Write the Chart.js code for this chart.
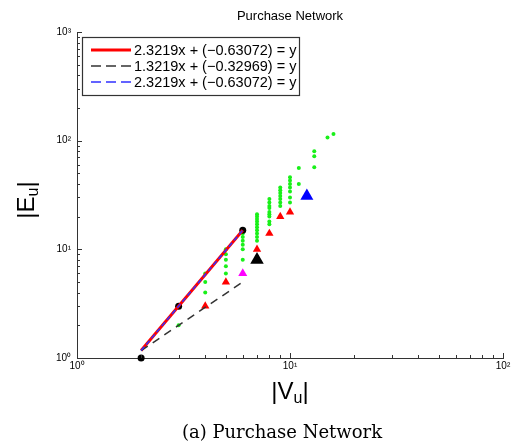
<!DOCTYPE html>
<html><head><meta charset="utf-8">
<script src="https://cdn.jsdelivr.net/npm/chart.js@4/dist/chart.umd.min.js"></script>
<style>html,body{margin:0;padding:0;background:#fff;}canvas{display:block;}</style>
</head><body>
<canvas id="c" width="513" height="446"></canvas>
<script>
// ---- data ----
const chartTitle = "Purchase Network";
const captionText = "(a) Purchase Network";
const xTickValues = [1, 10, 100];
const yTickValues = [1, 10, 100, 1000];
const xTickLabels = ["10\u2070", "10\u00b9", "10\u00b2"];
const yTickLabels = ["10\u2070", "10\u00b9", "10\u00b2", "10\u00b3"];

const greenX = [3, 4,4,4, 5,5,5,5,5, 6,6,6,6,6,6, 7,7,7,7,7,7,7,7,7,7,
                8,8,8,8,8,8,8,8,8, 9,9,9,9,9,9,9, 10,10,10,10,10,10,10, 11,11, 13,13,13, 15, 16];
const greenY = [2, 4,5,6, 6,7,8,9,10, 8,10,11,12,13,14, 12,13,14,15,16,17,18,19,20,21,
                17,18,20,21,22,24,25,27,29, 25,27,29,31,33,35,37, 27,30,34,37,40,43,46, 40,56, 57,72,80, 107, 115];
const redTriX = [4, 5, 7, 8, 9, 10];
const redTriY = [3, 5, 10, 14, 20, 22];
const circleX = [2, 3, 6];
const circleY = [1, 3, 15];
const magentaX = [6];
const magentaY = [6];
const blackTriX = [7];
const blackTriY = [8];
const blueTriX = [12];
const blueTriY = [31];
const fitX = [2, 6];
const fitRedY = [1.17, 15.0];
const fitBlackY = [1.17, 5.0];
const fitBlueY = [1.17, 15.0];
const legendLabels = ["2.3219x + (\u22120.63072) = y", "1.3219x + (\u22120.32969) = y", "2.3219x + (\u22120.63072) = y"];

const pts = (xs, ys) => xs.map((x, i) => ({x: x, y: ys[i]}));

const datasets = [
  {label: legendLabels[2], type: 'line', data: pts(fitX, fitBlueY), borderColor: '#3030ff', borderWidth: 1.5,
   borderDash: [5, 3], pointRadius: 0, showLine: true, fill: false},
  {label: legendLabels[1], type: 'line', data: pts(fitX, fitBlackY), borderColor: '#333333', borderWidth: 1.5,
   borderDash: [8, 6], pointRadius: 0, showLine: true, fill: false},
  {label: legendLabels[0], type: 'line', data: pts(fitX, fitRedY), borderColor: '#ff0000', borderWidth: 3,
   pointRadius: 0, showLine: true, fill: false},
  {label: 'circles', data: pts(circleX, circleY), pointStyle: 'circle', pointRadius: 3.5,
   backgroundColor: '#000', borderWidth: 0},
  {label: 'black', data: pts(blackTriX, blackTriY), pointStyle: 'triangle', pointRadius: 7.8,
   backgroundColor: '#000', borderWidth: 0},
  {label: 'blue', data: pts(blueTriX, blueTriY), pointStyle: 'triangle', pointRadius: 7.5,
   backgroundColor: '#0000ff', borderWidth: 0},
  {label: 'magenta', data: pts(magentaX, magentaY), pointStyle: 'triangle', pointRadius: 5.2,
   backgroundColor: '#ff00ff', borderWidth: 0},
  {label: 'red', data: pts(redTriX, redTriY), pointStyle: 'triangle', pointRadius: 4.8,
   backgroundColor: '#ff0000', borderWidth: 0},
  {label: 'green', data: pts(greenX, greenY), pointStyle: 'circle', pointRadius: 2,
   backgroundColor: '#19f019', borderWidth: 0}
];
datasets.forEach(d => { d.clip = false; d.pointHoverRadius = d.pointRadius; });

function drawParts(ctx, parts, cx, cy) {
  let w = 0;
  parts.forEach(p => { ctx.font = p.size + 'px "Liberation Sans", Arial, sans-serif'; p.w = ctx.measureText(p.t).width; w += p.w; });
  let x = cx - w / 2;
  ctx.textBaseline = 'middle'; ctx.textAlign = 'left';
  parts.forEach(p => { ctx.font = p.size + 'px "Liberation Sans", Arial, sans-serif'; ctx.fillText(p.t, x, cy + (p.dy || 0)); x += p.w; });
}

const decor = {
  id: 'decor',
  afterDatasetsDraw(chart) {
    const ctx = chart.ctx, ca = chart.chartArea, xs = chart.scales.x, ys = chart.scales.y;
    ctx.save();
    // inward ticks (major + minor), like the original log axes
    ctx.strokeStyle = '#333'; ctx.lineWidth = 1;
    ctx.beginPath();
    for (let d = 1; d < 100; d *= 10) {
      for (let k = 1; k <= 10; k++) {
        const v = k * d, len = (k === 1 || k === 10) ? 5 : 3;
        const px = Math.round(xs.getPixelForValue(v)) + 0.5;
        ctx.moveTo(px, ca.bottom); ctx.lineTo(px, ca.bottom - len);
      }
    }
    for (let d = 1; d < 1000; d *= 10) {
      for (let k = 1; k <= 10; k++) {
        const v = k * d, len = (k === 1 || k === 10) ? 5 : 3;
        const py = Math.round(ys.getPixelForValue(v)) + 0.5;
        ctx.moveTo(ca.left, py); ctx.lineTo(ca.left + len, py);
      }
    }
    ctx.stroke();

    ctx.fillStyle = '#000';
    // title
    ctx.font = '13px "Liberation Sans", Arial, sans-serif';
    ctx.textAlign = 'center'; ctx.textBaseline = 'middle';
    ctx.fillText(chartTitle, (ca.left + ca.right) / 2, 16);
    // x label |V_u|
    drawParts(ctx, [{t: '|V', size: 24}, {t: 'u', size: 16, dy: 7}, {t: '|', size: 24}], (ca.left + ca.right) / 2, 392);
    // y label |E_u| rotated
    ctx.save();
    ctx.translate(27, (ca.top + ca.bottom) / 2 + 5);
    ctx.rotate(-Math.PI / 2);
    drawParts(ctx, [{t: '|E', size: 24}, {t: 'u', size: 16, dy: 7}, {t: '|', size: 24}], 0, 0);
    ctx.restore();
    // caption
    ctx.font = '18px "DejaVu Serif", serif';
    ctx.textAlign = 'center'; ctx.textBaseline = 'middle';
    ctx.fillText(captionText, (ca.left + ca.right) / 2 - 8, 433);

    // legend box (inside plot area, top-left)
    const lx = 82, ly = 37, lw = 217, lh = 58;
    ctx.fillStyle = '#fff'; ctx.fillRect(lx, ly, lw, lh);
    ctx.strokeStyle = '#333'; ctx.lineWidth = 1.2;
    ctx.strokeRect(lx + 0.5, ly + 0.5, lw, lh);
    const items = [chart.data.datasets[2], chart.data.datasets[1], chart.data.datasets[0]];
    items.forEach((ds, i) => {
      const y = ly + 13 + i * 16;
      ctx.strokeStyle = ds.borderColor; ctx.lineWidth = ds.borderWidth;
      ctx.setLineDash(ds.borderDash ? [10, 5] : []);
      ctx.beginPath(); ctx.moveTo(91, y); ctx.lineTo(131, y); ctx.stroke();
      ctx.setLineDash([]);
      ctx.fillStyle = '#000';
      ctx.font = '14.5px "Liberation Sans", Arial, sans-serif';
      ctx.textAlign = 'left'; ctx.textBaseline = 'middle';
      ctx.fillText(ds.label, 134, y + 1);
    });
    ctx.restore();
  }
};

new Chart(document.getElementById('c'), {
  type: 'scatter',
  data: {datasets: datasets},
  options: {
    responsive: false, animation: false,
    layout: {padding: {top: 32, right: 10, left: 0, bottom: 0}},
    plugins: {legend: {display: false}, title: {display: false}, tooltip: {enabled: false}},
    scales: {
      x: {
        type: 'logarithmic', min: 1, max: 100,
        grid: {display: false, drawTicks: false},
        border: {display: true, color: '#333', width: 1},
        ticks: {font: {size: 10, family: '"Liberation Sans", Arial, sans-serif'}, color: '#000', padding: 2,
                autoSkip: false, maxRotation: 0,
                callback: (v) => { const i = xTickValues.indexOf(v); return i >= 0 ? xTickLabels[i] : ''; }},
        afterBuildTicks: (s) => { s.ticks = xTickValues.map(v => ({value: v})); },
        afterFit: (s) => { s.height = 88; }
      },
      y: {
        type: 'logarithmic', min: 1, max: 1000,
        grid: {display: false, drawTicks: false},
        border: {display: true, color: '#333', width: 1},
        ticks: {font: {size: 10, family: '"Liberation Sans", Arial, sans-serif'}, color: '#000', padding: 6,
                autoSkip: false,
                callback: (v) => { const i = yTickValues.indexOf(v); return i >= 0 ? yTickLabels[i] : ''; }},
        afterBuildTicks: (s) => { s.ticks = yTickValues.map(v => ({value: v})); },
        afterFit: (s) => { s.width = 77; }
      }
    }
  },
  plugins: [decor]
});
</script>
</body></html>
